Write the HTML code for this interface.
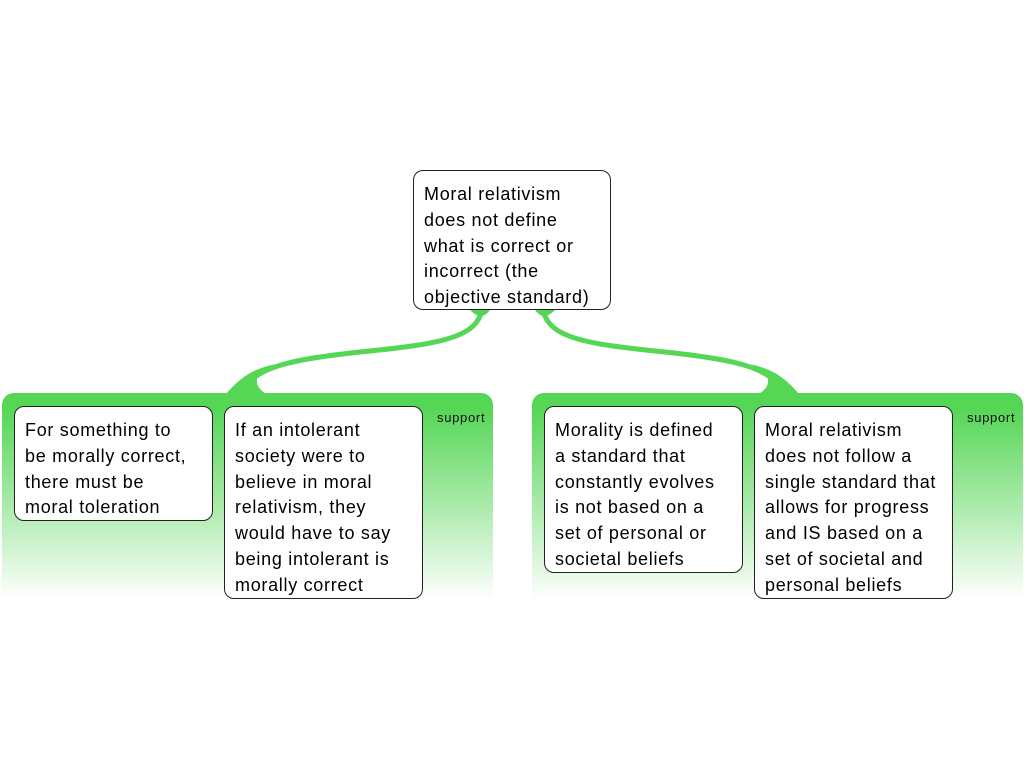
<!DOCTYPE html>
<html><head><style>
body{margin:0;width:1024px;height:768px;background:#fff;position:relative;overflow:hidden;font-family:"Liberation Sans",sans-serif}
.panel{position:absolute;top:393px;height:207px;border-radius:12px 12px 0 0;background:linear-gradient(#55d655 0px,#55d655 15px,#a8eaa8 110px,#fff 207px)}
.box{position:absolute;background:#fff;border:1px solid #222;border-radius:10px;box-sizing:border-box;padding:11px 10px;font-size:18px;line-height:25.8px;color:#000;white-space:nowrap;letter-spacing:0.7px}
.sup{position:absolute;top:410px;font-size:13px;color:#111;letter-spacing:0.7px}
</style></head><body>
<svg width="1024" height="768" style="position:absolute;left:0;top:0">
<g fill="none" stroke="#55d655" stroke-width="5">
<path d="M482,310 C476,338 440,344 360,352 C285,360 255,368 240,393"/>
<path d="M543,310 C549,338 585,344 665,352 C740,360 770,368 785,393"/>
</g>
<path d="M225,395 C240,378 250,370 275,364 C255,372 250,385 268,395 Z" fill="#55d655"/>
<path d="M800,395 C785,378 775,370 750,364 C770,372 775,385 757,395 Z" fill="#55d655"/>
<path d="M470,310 C478,318 484,318 490,310 Z" fill="#55d655"/>
<path d="M535,310 C541,318 547,318 555,310 Z" fill="#55d655"/>
</svg>
<div class="panel" style="left:2px;width:491px"></div>
<div class="panel" style="left:532px;width:491px"></div>
<div class="sup" style="left:437px">support</div>
<div class="sup" style="left:967px">support</div>
<div class="box" style="left:413px;top:170px;width:198px;height:140px">Moral relativism<br>does not define<br>what is correct or<br>incorrect (the<br>objective standard)</div>
<div class="box" style="left:14px;top:406px;width:199px;height:115px">For something to<br>be morally correct,<br>there must be<br>moral toleration</div>
<div class="box" style="left:224px;top:406px;width:199px;height:193px">If an intolerant<br>society were to<br>believe in moral<br>relativism, they<br>would have to say<br>being intolerant is<br>morally correct</div>
<div class="box" style="left:544px;top:406px;width:199px;height:167px">Morality is defined<br>a standard that<br>constantly evolves<br>is not based on a<br>set of personal or<br>societal beliefs</div>
<div class="box" style="left:754px;top:406px;width:199px;height:193px">Moral relativism<br>does not follow a<br>single standard that<br>allows for progress<br>and IS based on a<br>set of societal and<br>personal beliefs</div>
</body></html>
